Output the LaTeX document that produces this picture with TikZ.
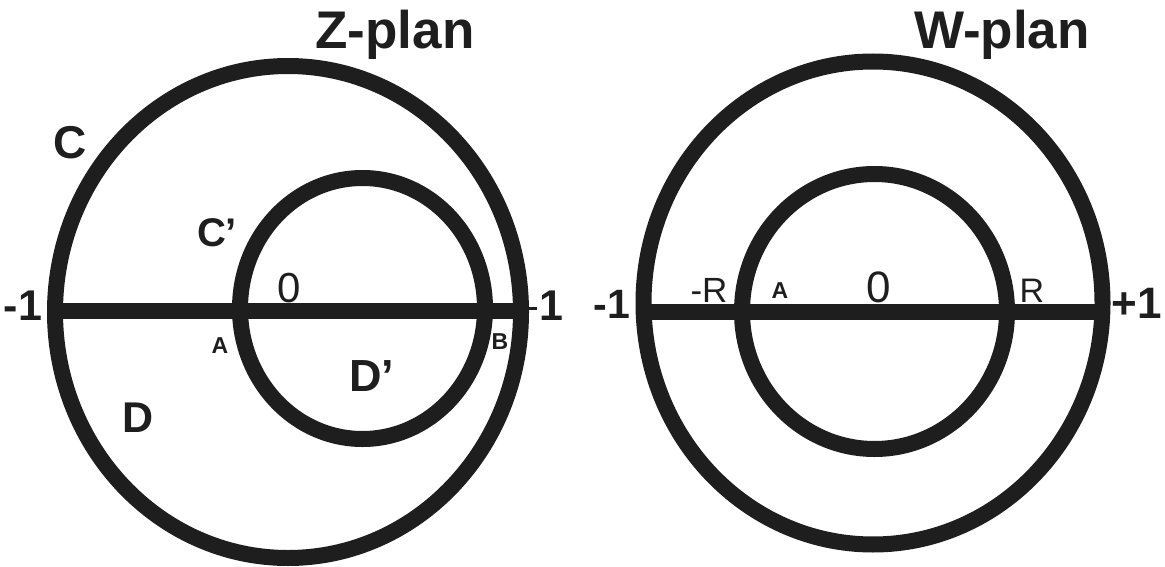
\documentclass[tikz,border=0pt]{standalone}
\usepackage{fontspec}
\setmainfont{Liberation Sans}
\definecolor{ink}{RGB}{30,30,30}
\begin{document}
\begin{tikzpicture}[x=1pt,y=-1pt,
  curve/.style={draw=ink,line width=16pt},
  axis/.style={draw=ink,line width=16pt,line cap=butt},
  title/.style={inner sep=0pt,anchor=base,text=ink,font=\fontsize{53}{60}\selectfont\bfseries},
  big/.style={inner sep=0pt,anchor=base,text=ink,font=\fontsize{43}{50}\selectfont\bfseries},
  mid/.style={inner sep=0pt,anchor=base,text=ink,font=\fontsize{38}{44}\selectfont},
  small/.style={inner sep=0pt,anchor=base,text=ink,font=\fontsize{23}{28}\selectfont\bfseries}]
\fill[white] (0,0) rectangle (1165,567);
\useasboundingbox (0,0) rectangle (1165,567);
% Z-plan
\draw[curve] (288,312) ellipse [x radius=233,y radius=246];
\draw[curve] (362.5,308.5) ellipse [x radius=122.5,y radius=130.5];
\coordinate (zl) at (48,311);
\coordinate (zr) at (529,311);
\coordinate (ztip) at (537,308);
\draw[axis] (zl) -- (zr);
\draw[ink,line width=3pt] (zr |- ztip) -- (ztip);
\node[title] (zt) at (395,49) {Z-plan};
\node[big,font=\fontsize{46}{52}\selectfont\bfseries] (zc) at (70,159) {C};
\node[big,font=\fontsize{40}{46}\selectfont\bfseries] (zcp) at (217,246) {C’};
\node[mid,font=\fontsize{42}{48}\selectfont] (z0) at (289,302) {0};
\node[big] (zm1) at (23,320) {-1};
\node[big] (zp1) at (551,320) {1};
\node[small] (za) at (220,353) {A};
\node[small] (zb) at (500,349) {B};
\node[big,font=\fontsize{45}{52}\selectfont\bfseries] (zdp) at (372,391) {D’};
\node[big] (zd) at (138,432) {D};
% W-plan
\draw[curve] (873,303) ellipse [x radius=229.5,y radius=241.5];
\draw[curve] (874.5,311.5) ellipse [x radius=132.5,y radius=137.5];
\coordinate (wl) at (636,311.5);
\coordinate (wr) at (1110,311.5);
\draw[axis] (wl) -- (wr);
\node[title] (wt) at (1002,49) {W-plan};
\node[big,font=\fontsize{41}{48}\selectfont\bfseries] (wm1) at (612,318) {-1};
\node[mid,font=\fontsize{35}{40}\selectfont] (wmr) at (709,302) {-R};
\node[small] (wa) at (780,298) {A};
\node[mid,font=\fontsize{44}{50}\selectfont] (w0) at (879,302) {0};
\node[mid,font=\fontsize{34}{40}\selectfont] (wr1) at (1032,302) {R};
\node[big,font=\fontsize{44}{50}\selectfont\bfseries] (wp1) at (1137,318) {+1};
\end{tikzpicture}
\end{document}
